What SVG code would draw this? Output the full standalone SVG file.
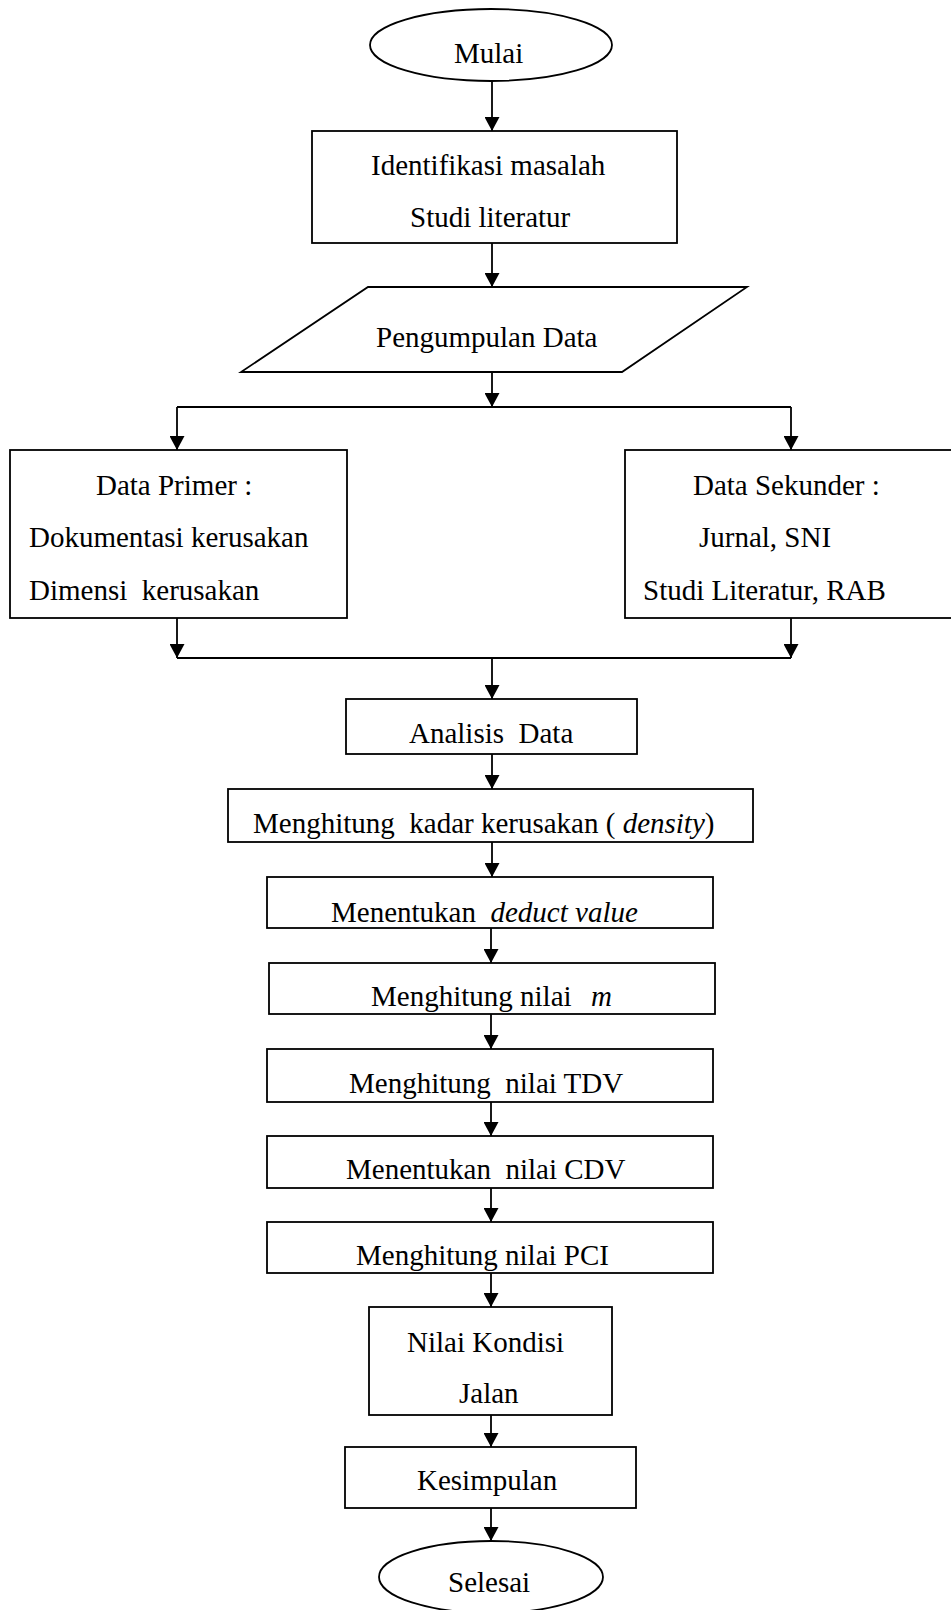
<svg xmlns="http://www.w3.org/2000/svg" width="951" height="1610" viewBox="0 0 951 1610">
  <style>
    .shape { fill: #ffffff; stroke: #000000; stroke-width: 1.8; }
    .line { fill: none; stroke: #000000; stroke-width: 1.8; }
    text { font-family: "Liberation Serif", "Times New Roman", serif; font-size: 29px; fill: #000000; }
    .it { font-style: italic; }
  </style>
  <defs>
    <marker id="arrow" viewBox="0 0 14 15" markerWidth="14" markerHeight="15" refX="14" refY="7.5" orient="auto" markerUnits="userSpaceOnUse">
      <path d="M0,0 L14,7.5 L0,15 z" fill="#000000"/>
    </marker>
  </defs>
  <rect width="951" height="1610" fill="#ffffff"/>

  <!-- connectors -->
  <g id="connectors">
    <path class="line" d="M492,81 V131" marker-end="url(#arrow)"/>
    <path class="line" d="M492,243 V287" marker-end="url(#arrow)"/>
    <path class="line" d="M492,372 V407" marker-end="url(#arrow)"/>
    <path class="line" d="M177,407 H791"/>
    <path class="line" d="M177,407 V450" marker-end="url(#arrow)"/>
    <path class="line" d="M791,407 V450" marker-end="url(#arrow)"/>
    <path class="line" d="M177,618 V658" marker-end="url(#arrow)"/>
    <path class="line" d="M791,618 V658" marker-end="url(#arrow)"/>
    <path class="line" d="M177,658 H791"/>
    <path class="line" d="M492,658 V699" marker-end="url(#arrow)"/>
    <path class="line" d="M492,754 V789" marker-end="url(#arrow)"/>
    <path class="line" d="M492,842 V877" marker-end="url(#arrow)"/>
    <path class="line" d="M491,928 V963" marker-end="url(#arrow)"/>
    <path class="line" d="M491,1014 V1049" marker-end="url(#arrow)"/>
    <path class="line" d="M491,1102 V1136" marker-end="url(#arrow)"/>
    <path class="line" d="M491,1188 V1222" marker-end="url(#arrow)"/>
    <path class="line" d="M491,1273 V1307" marker-end="url(#arrow)"/>
    <path class="line" d="M491,1415 V1447" marker-end="url(#arrow)"/>
    <path class="line" d="M491,1508 V1541" marker-end="url(#arrow)"/>
  </g>

  <g id="mulai">
    <ellipse class="shape" cx="491" cy="45" rx="121" ry="36"/>
    <text x="454" y="63">Mulai</text>
  </g>

  <g id="identifikasi">
    <rect class="shape" x="312" y="131" width="365" height="112"/>
    <text x="371" y="175">Identifikasi masalah</text>
    <text x="410" y="227">Studi literatur</text>
  </g>

  <g id="pengumpulan">
    <polygon class="shape" points="368,287 747,287 622,372 241,372"/>
    <text x="376" y="347">Pengumpulan Data</text>
  </g>

  <g id="data-primer">
    <rect class="shape" x="10" y="450" width="337" height="168"/>
    <text x="96" y="495">Data Primer :</text>
    <text x="29" y="547">Dokumentasi kerusakan</text>
    <text x="29" y="600" xml:space="preserve">Dimensi  kerusakan</text>
  </g>

  <g id="data-sekunder">
    <rect class="shape" x="625" y="450" width="340" height="168"/>
    <text x="693" y="495">Data Sekunder :</text>
    <text x="699" y="547">Jurnal, SNI</text>
    <text x="643" y="600">Studi Literatur, RAB</text>
  </g>

  <g id="analisis">
    <rect class="shape" x="346" y="699" width="291" height="55"/>
    <text x="409" y="743" xml:space="preserve">Analisis  Data</text>
  </g>

  <g id="density">
    <rect class="shape" x="228" y="789" width="525" height="53"/>
    <text x="253" y="833" xml:space="preserve">Menghitung  kadar kerusakan ( <tspan class="it">density</tspan>)</text>
  </g>

  <g id="deduct">
    <rect class="shape" x="267" y="877" width="446" height="51"/>
    <text x="331" y="922" xml:space="preserve">Menentukan  <tspan class="it">deduct value</tspan></text>
  </g>

  <g id="nilai-m">
    <rect class="shape" x="269" y="963" width="446" height="51"/>
    <text x="371" y="1006">Menghitung nilai <tspan class="it" x="591">m</tspan></text>
  </g>

  <g id="tdv">
    <rect class="shape" x="267" y="1049" width="446" height="53"/>
    <text x="349" y="1093" xml:space="preserve">Menghitung  nilai TDV</text>
  </g>

  <g id="cdv">
    <rect class="shape" x="267" y="1136" width="446" height="52"/>
    <text x="346" y="1179" xml:space="preserve">Menentukan  nilai CDV</text>
  </g>

  <g id="pci">
    <rect class="shape" x="267" y="1222" width="446" height="51"/>
    <text x="356" y="1265">Menghitung nilai PCI</text>
  </g>

  <g id="kondisi">
    <rect class="shape" x="369" y="1307" width="243" height="108"/>
    <text x="407" y="1352">Nilai Kondisi</text>
    <text x="459" y="1403">Jalan</text>
  </g>

  <g id="kesimpulan">
    <rect class="shape" x="345" y="1447" width="291" height="61"/>
    <text x="417" y="1490">Kesimpulan</text>
  </g>

  <g id="selesai">
    <ellipse class="shape" cx="491" cy="1577" rx="112" ry="36"/>
    <text x="448" y="1592">Selesai</text>
  </g>
</svg>
